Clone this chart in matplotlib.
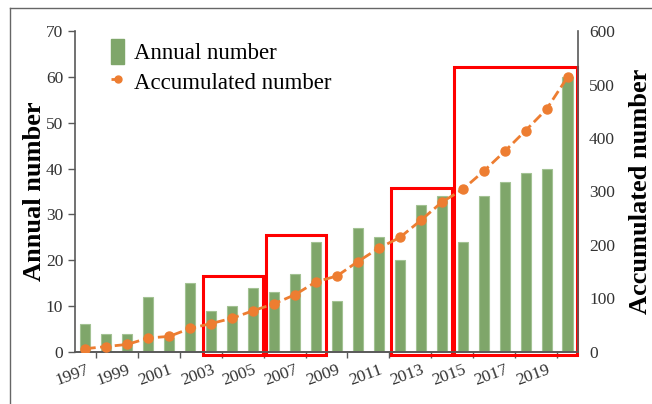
import numpy as np
import matplotlib.pyplot as plt
from matplotlib.lines import Line2D
from matplotlib.patches import Rectangle, Patch

plt.rcParams['font.family'] = ['Liberation Serif', 'DejaVu Serif']

years = list(range(1997, 2021))
annual = [6, 4, 4, 12, 3, 15, 9, 10, 14, 13, 17, 24, 11, 27, 25, 20, 32, 34,
          24, 34, 37, 39, 40, 60]
accumulated = np.cumsum(annual)
# highlighted year groups (first year, last year, box top on left axis)
boxes = [(2003, 2005, 16.6), (2006, 2008, 25.5), (2012, 2014, 35.8), (2015, 2020, 62.1)]

green = '#7fa66a'
orange = '#ed7d31'
grey = '#595959'

fig = plt.figure(figsize=(6.52, 4.04), dpi=100)
ax = fig.add_axes([0.115, 0.129, 0.7715, 0.794])
ax2 = ax.twinx()

x = np.arange(len(years))
ax.bar(x, annual, 0.48, color=green, edgecolor='#a3c293', linewidth=0.8,
       label='Annual number', zorder=2)
ax2.plot(x, accumulated, '--', color=orange, lw=2, marker='o', ms=6.5,
         label='Accumulated number', zorder=3)

ax.set_xlim(-0.5, len(years) - 0.5)
ax.set_ylim(0, 70)
ax2.set_ylim(0, 600)
ax.set_yticks(range(0, 71, 10))
ax2.set_yticks(range(0, 601, 100))

major = x[::2]
ax.set_xticks(major)
ax.set_xticklabels([str(years[i]) for i in major], rotation=20, ha='right',
                   rotation_mode='anchor', fontsize=12.5, color='#333333')
ax.set_xticks(major + 0.5, minor=True)
ax.tick_params(axis='x', which='major', length=0, pad=7)
ax.tick_params(axis='x', which='minor', length=4, width=1, color=grey, direction='out')
ax.tick_params(axis='y', labelsize=12.5, labelcolor='#333333', length=5,
               width=1, color=grey, direction='out')
ax2.tick_params(axis='y', labelsize=12.5, labelcolor='#333333', length=0, pad=8)

for a in (ax, ax2):
    a.spines['top'].set_visible(False)
    for s in ('left', 'right', 'bottom'):
        a.spines[s].set_color(grey)
        a.spines[s].set_linewidth(1.2)
ax2.spines['left'].set_visible(False)
ax.spines['right'].set_visible(False)

ax.set_ylabel('Annual number', fontsize=19, fontweight='bold', labelpad=0)
ax2.set_ylabel('Accumulated number', fontsize=19, fontweight='bold', labelpad=10)

for y0, y1, top in boxes:
    i0 = years.index(y0)
    i1 = years.index(y1)
    ax.add_patch(Rectangle((i0 - 0.4, -0.65), (i1 - i0) + 0.87, top + 0.65,
                           fill=False, edgecolor='#ff0000', lw=2.2,
                           clip_on=False, zorder=5))

handles = [Patch(facecolor=green, edgecolor=green),
           Line2D([], [], color=orange, ls='--', lw=2, marker='o', ms=5)]
ax.legend(handles, ['Annual number', 'Accumulated number'], loc='upper left',
          bbox_to_anchor=(0.03, 1.04), frameon=False, fontsize=16.5,
          handlelength=0.6, handleheight=1.3, handletextpad=0.4, labelspacing=0.2)

# outer frame lines
fig.add_artist(Line2D([10 / 652, 1], [1 - 8 / 404, 1 - 8 / 404], color='#666666',
                      lw=1, transform=fig.transFigure))
fig.add_artist(Line2D([10 / 652, 10 / 652], [0, 1 - 8 / 404], color='#666666',
                      lw=1, transform=fig.transFigure))

fig.savefig('out.png', dpi=100)
